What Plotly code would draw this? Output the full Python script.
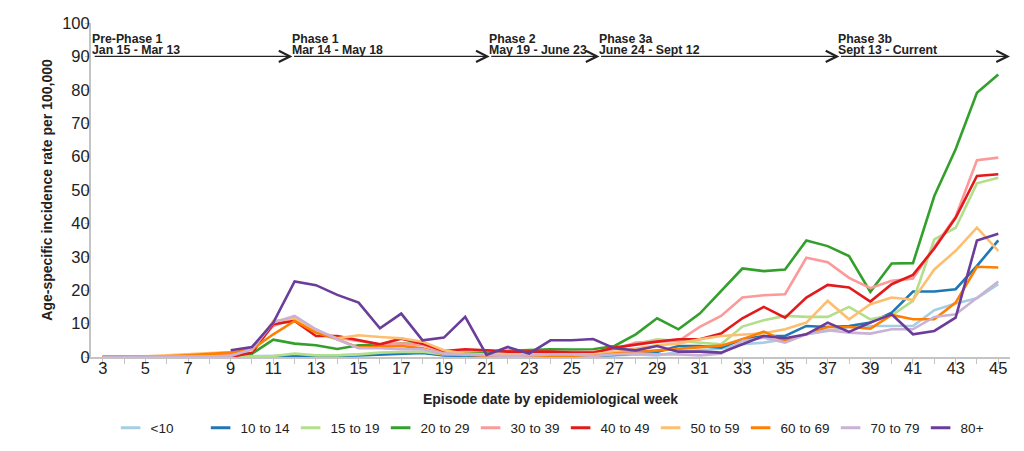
import plotly.graph_objects as go

# Epidemiological weeks shown on the x axis
weeks = list(range(3, 46))

# Age-specific incidence rate per 100,000, one list per age group (weeks 3..45)
rate_under10 = [0, 0, 0, 0, 0, 0.2, 0.2, 0.3, 0.3, 0.5, 0.4, 0.5, 0.7, 0.9, 1.1, 1.3, 0.6, 0.4, 0.3, 0.3, 0.3,
                0.3, 0.3, 0.3, 0.5, 0.8, 0.5, 1.5, 2.0, 2.5, 3.8, 4.3, 5.3, 6.8, 7.8, 9.0, 9.3, 9.3, 9.3, 14.0,
                16.0, 17.6, 21.8]
rate_10_14 = [0, 0, 0, 0, 0, 0, 0, 0, 0, 0.3, 0.2, 0.3, 0.5, 0.8, 1.0, 1.2, 0.5, 0.3, 0.2, 0.3, 0.2,
              0.2, 0.3, 0.3, 0.6, 1.0, 1.5, 3.3, 3.3, 2.8, 5.3, 6.3, 6.3, 9.3, 9.0, 9.3, 10.3, 13.3, 19.6, 19.6,
              20.3, 27.3, 34.9]
rate_15_19 = [0, 0, 0, 0, 0, 0, 0.1, 0.2, 0.3, 1.0, 0.5, 0.5, 0.8, 1.3, 1.5, 1.6, 0.8, 0.6, 0.8, 1.0, 1.2,
              1.5, 1.3, 1.2, 2.5, 4.0, 5.3, 4.8, 4.3, 3.8, 9.1, 11.0, 12.3, 12.0, 12.0, 15.0, 11.3, 12.5, 16.8,
              35.2, 38.7, 52.0, 53.7]
rate_20_29 = [0, 0, 0, 0, 0.2, 0.5, 0.8, 1.0, 5.2, 4.0, 3.5, 2.4, 3.5, 3.6, 4.0, 3.8, 1.5, 1.2, 1.6, 1.8, 2.0,
              2.3, 2.2, 2.3, 3.3, 6.8, 11.6, 8.3, 13.0, 19.8, 26.5, 25.7, 26.2, 34.9, 33.2, 30.2, 19.5, 28.0,
              28.1, 48.2, 62.2, 79.1, 84.6]
rate_30_39 = [0, 0, 0, 0, 0.3, 0.6, 1.0, 2.5, 9.3, 11.6, 7.8, 5.8, 4.8, 3.8, 4.0, 3.6, 1.6, 1.8, 2.0, 1.6, 1.4,
              1.5, 1.5, 1.6, 2.3, 4.3, 4.6, 4.8, 9.0, 12.3, 17.8, 18.5, 18.8, 29.7, 28.4, 23.7, 20.6, 22.8, 23.5,
              33.0, 42.0, 58.9, 59.7]
rate_40_49 = [0, 0.2, 0.2, 0.1, 0.1, 0.1, 0, 1.3, 9.8, 10.8, 6.3, 6.3, 5.0, 3.8, 5.5, 4.0, 1.8, 2.3, 2.0, 1.6,
              1.6, 1.6, 1.3, 1.3, 2.8, 3.8, 4.6, 5.3, 5.3, 7.0, 11.6, 15.0, 11.8, 17.8, 21.6, 20.8, 16.6, 21.8,
              24.6, 32.5, 41.7, 54.2, 54.7]
rate_50_59 = [0, 0, 0.2, 0.5, 0.8, 1.0, 1.5, 2.0, 10.8, 11.6, 7.8, 5.6, 6.5, 6.0, 5.6, 4.6, 2.0, 1.0, 0.8, 0.5,
              0.6, 0.8, 0.8, 0.8, 1.5, 2.5, 3.5, 4.0, 5.3, 6.3, 6.8, 7.1, 8.3, 10.3, 16.8, 11.3, 15.8, 17.8,
              17.1, 26.2, 31.8, 38.7, 31.8]
rate_60_69 = [0, 0, 0, 0.2, 0.5, 0.8, 1.3, 2.3, 6.8, 10.8, 7.3, 5.3, 2.8, 3.0, 3.3, 2.6, 0.8, 0.8, 0.3, 0.2,
              0.2, 0.5, 0.5, 0.3, 1.0, 1.5, 2.0, 2.5, 3.0, 3.4, 5.3, 7.6, 4.8, 6.8, 9.0, 9.0, 8.5, 12.6, 11.3,
              11.3, 16.3, 27.0, 26.8]
rate_70_79 = [0, 0, 0, 0, 0, 0.2, 0.3, 2.3, 10.3, 12.3, 8.3, 5.3, 2.6, 2.6, 2.3, 2.3, 1.0, 0.8, 0.5, 0.3, 0.5,
              0.8, 0.8, 0.3, 0.8, 1.0, 0.8, 0.8, 0.5, 1.0, 4.8, 5.8, 4.3, 6.8, 8.0, 7.3, 7.0, 8.3, 8.3, 12.0,
              12.8, 17.8, 22.6]
rate_80plus = [None, None, None, None, None, None, 2.0, 3.0, 10.3, 22.6, 21.5, 18.6, 16.3, 8.6, 13.0, 5.0,
               5.8, 12.0, 0.6, 3.0, 1.0, 5.0, 5.0, 5.4, 2.6, 2.0, 3.3, 1.6, 1.6, 1.3, 3.8, 6.3, 5.6, 6.8, 10.3,
               7.5, 10.3, 12.8, 6.8, 7.8, 11.8, 34.9, 36.9]

age_groups = ["<10", "10 to 14", "15 to 19", "20 to 29", "30 to 39",
              "40 to 49", "50 to 59", "60 to 69", "70 to 79", "80+"]
series = [rate_under10, rate_10_14, rate_15_19, rate_20_29, rate_30_39,
          rate_40_49, rate_50_59, rate_60_69, rate_70_79, rate_80plus]
colors = ["#a6cee3", "#1f78b4", "#b2df8a", "#33a02c", "#fb9a99",
          "#e31a1c", "#fdbf6f", "#ff7f00", "#cab2d6", "#6a3d9a"]

# Reopening phases (arrow start / end in weeks)
phase_names = ["Pre-Phase 1", "Phase 1", "Phase 2", "Phase 3a", "Phase 3b"]
phase_dates = ["Jan 15 - Mar 13", "Mar 14 - May 18", "May 19 - June 23",
               "June 24 - Sept 12", "Sept 13 - Current"]
phase_start = [2.55, 11.9, 21.15, 26.3, 37.55]
phase_end = [11.9, 21.15, 26.3, 37.55, 45.55]
phase_level = 90

FONT = "Liberation Sans, Arial, sans-serif"
TEXT = "#222222"
AXIS = "#c4c4c4"

fig = go.Figure()

for name, vals, c in zip(age_groups, series, colors):
    fig.add_trace(go.Scatter(
        x=weeks, y=vals, mode="lines", name=name,
        line=dict(color=c, width=2.6),
        showlegend=False,
    ))

# short dash legend entries
for name, c in zip(age_groups, colors):
    fig.add_trace(go.Scatter(
        x=[None], y=[None], mode="markers", name=name,
        marker=dict(symbol="line-ew", size=14, color=c, line=dict(color=c, width=3)),
    ))

for name, dates, s, e in zip(phase_names, phase_dates, phase_start, phase_end):
    fig.add_annotation(
        x=e, y=phase_level, ax=s, ay=phase_level, axref="x", ayref="y",
        xref="x", yref="y", text="", showarrow=True,
        arrowhead=5, arrowsize=1.7, arrowwidth=1.3, arrowcolor=TEXT,
    )
    # two separate lines so they sit tight like the original
    for txt, shift in ((name, 17.5), (dates, 6)):
        fig.add_annotation(
            x=s, y=phase_level, xref="x", yref="y",
            text=f"<b>{txt}</b>", showarrow=False, borderpad=0,
            xanchor="left", yanchor="middle", yshift=shift, xshift=-2,
            font=dict(family=FONT, size=12.3, color=TEXT),
        )

# page body adds an 8px offset, margins account for it
fig.update_layout(
    width=1024, height=451,
    margin=dict(l=83, r=22, t=15, b=102, autoexpand=False),
    paper_bgcolor="white", plot_bgcolor="white",
    font=dict(family=FONT, color=TEXT),
    legend=dict(
        orientation="h", x=0.511, xanchor="center", y=-0.2126, yanchor="middle",
        font=dict(size=13.5, color=TEXT), entrywidthmode="pixels", entrywidth=45,
    ),
)

fig.update_xaxes(
    range=[2.45, 45.55], tickmode="linear", tick0=3, dtick=2,
    showgrid=False, zeroline=False, showline=True, linecolor=AXIS, linewidth=2,
    ticks="outside", ticklen=5, tickcolor=AXIS, ticklabelstandoff=-10,
    minor=dict(dtick=1, ticks="outside", ticklen=5, tickcolor=AXIS, showgrid=False),
    tickfont=dict(size=16.5, color=TEXT),
    title=dict(text="<b>Episode date by epidemiological week</b>", font=dict(size=14, color=TEXT), standoff=18),
)
fig.update_yaxes(
    range=[0, 100], tickmode="linear", tick0=0, dtick=10,
    showgrid=False, zeroline=False, showline=True, linecolor=AXIS, linewidth=2,
    ticks="outside", ticklen=4, tickcolor=AXIS, ticklabelstandoff=-8,
    tickfont=dict(size=16.5, color=TEXT),
    title=dict(text="<b>Age-specific incidence rate per 100,000</b>", font=dict(size=14, color=TEXT), standoff=6),
)

fig.write_html("out.html")
